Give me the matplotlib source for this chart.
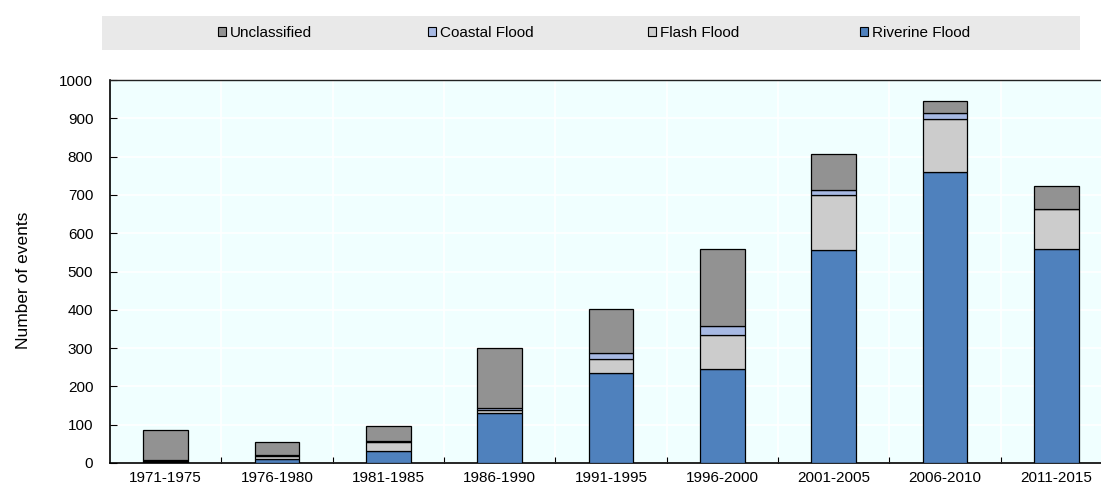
import matplotlib
matplotlib.use("Agg")
import matplotlib.pyplot as plt
import numpy as np
from matplotlib.patches import Rectangle, Patch

periods = ["1971-1975", "1976-1980", "1981-1985", "1986-1990", "1991-1995",
           "1996-2000", "2001-2005", "2006-2010", "2011-2015"]
riverine = [3, 11, 32, 130, 234, 245, 555, 760, 558]
flash = [2, 7, 24, 8, 37, 89, 144, 138, 104]
coastal = [2, 4, 2, 5, 17, 24, 14, 16, 2]
unclassified = [79, 32, 38, 156, 113, 201, 94, 30, 59]

colors = {"Riverine Flood": "#4F81BD", "Flash Flood": "#CCCCCC",
          "Coastal Flood": "#A7B9E3", "Unclassified": "#929292"}

plt.rcParams['font.family'] = ['Liberation Sans', 'DejaVu Sans']

fig = plt.figure(figsize=(11.01, 4.87), dpi=100)
W, H = 1101, 487
ax = fig.add_axes([110 / W, (H - 463) / H, (1112 - 110) / W, (463 - 80) / H])
ax.set_facecolor("#F0FFFF")

x = np.arange(len(periods))
width = 0.40
bottom = np.zeros(len(periods))
series = [("Riverine Flood", riverine), ("Flash Flood", flash),
          ("Coastal Flood", coastal), ("Unclassified", unclassified)]
for name, vals in series:
    vals = np.array(vals, dtype=float)
    ax.bar(x, vals, width, bottom=bottom, color=colors[name],
           edgecolor="black", linewidth=0.9, zorder=3)
    bottom += vals

ax.set_xlim(-0.5, len(periods) - 0.5)
ax.set_ylim(0, 1000)
ax.set_yticks(np.arange(0, 1001, 100))
ax.set_xticks(x)
ax.set_xticklabels(periods)
ax.set_xticks(np.arange(0.5, len(periods) - 0.5, 1), minor=True)
ax.tick_params(axis="x", which="major", length=0, labelsize=11, pad=6)
ax.tick_params(axis="x", which="minor", length=4, direction="in", width=0.8)
ax.tick_params(axis="y", length=5, direction="in", labelsize=11, width=0.8, pad=12)

ax.grid(axis="y", color="white", linewidth=1.2, zorder=0)
ax.grid(axis="x", which="minor", color="white", linewidth=1.2, zorder=0)
ax.set_axisbelow(True)

ax.spines["right"].set_visible(False)
ax.spines["top"].set_linewidth(1.0)
ax.spines["top"].set_color("#222222")
ax.spines["left"].set_linewidth(1.2)
ax.spines["bottom"].set_linewidth(1.2)

ax.set_ylabel("Number of events", fontsize=12.5)
ax.yaxis.set_label_coords(-0.079, 0.478)

# legend band
fig.patches.append(Rectangle((102 / W, (H - 50) / H), (1080 - 102) / W, 34 / H,
                             transform=fig.transFigure, facecolor="#E9E9E9",
                             edgecolor="none", zorder=0))
legend_names = ["Unclassified", "Coastal Flood", "Flash Flood", "Riverine Flood"]
legend_x = [218, 428, 648, 860]
for name, lx in zip(legend_names, legend_x):
    h = Patch(facecolor=colors[name], edgecolor="black", linewidth=0.8)
    fig.legend([h], [name], loc="center left",
               bbox_to_anchor=(lx / W, (H - 33) / H), frameon=False,
               fontsize=11, handlelength=0.55, handleheight=0.55,
               handletextpad=0.25, borderpad=0, borderaxespad=0)

fig.savefig("out.png", dpi=100)
